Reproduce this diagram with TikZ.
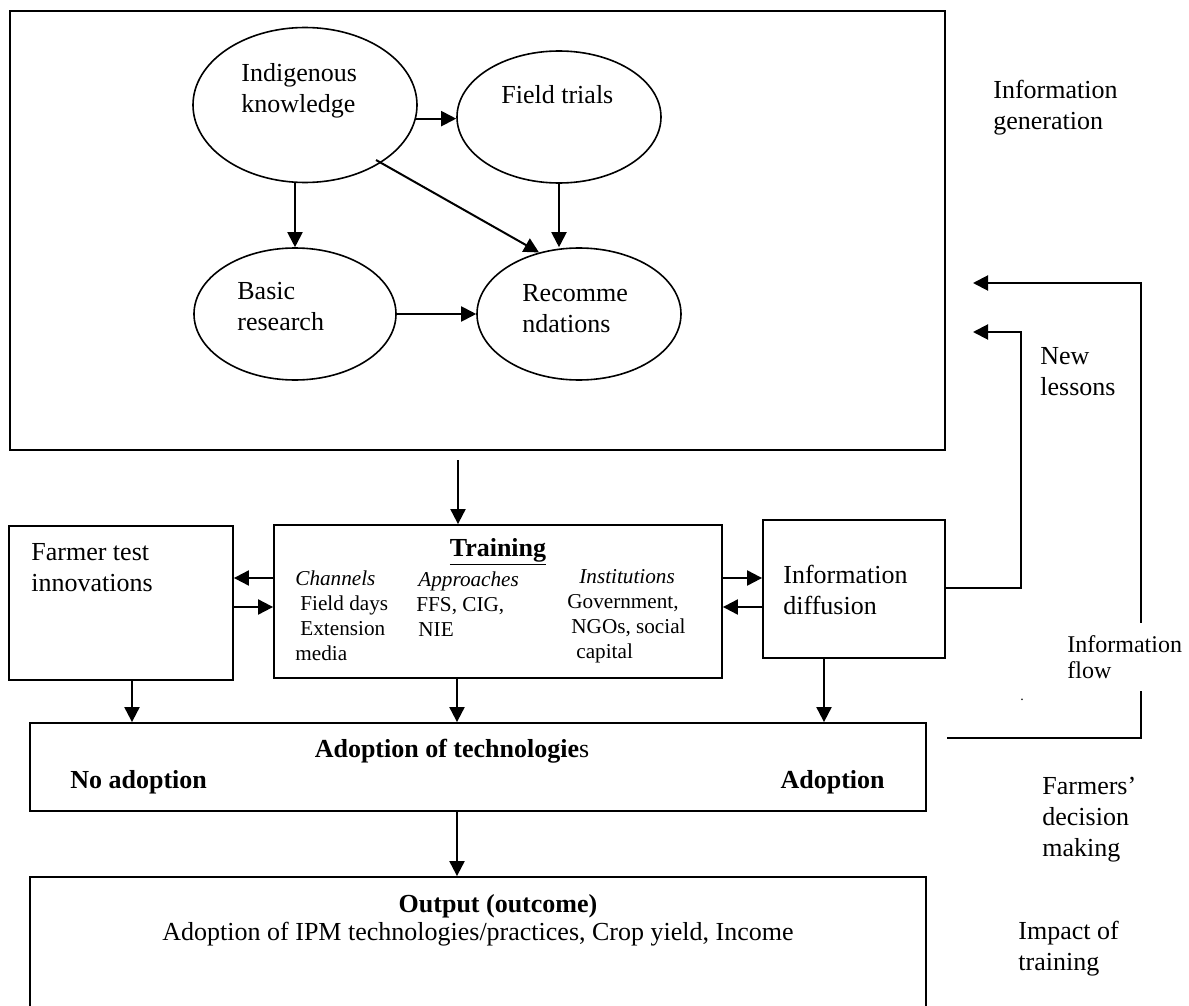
\documentclass[tikz,border=0pt]{standalone}
\usepackage{fontspec}
\setmainfont{Liberation Serif}
\usetikzlibrary{arrows.meta,calc,fit,shapes.geometric}

\begin{document}
\begin{tikzpicture}[x=0.5pt,y=-0.5pt,font=\fontsize{13}{15.5}\selectfont]
  \tikzstyle{frame}=[draw,line width=0.9pt,inner sep=0pt]
  \tikzstyle{bubble}=[draw,ellipse,line width=0.8pt,inner sep=0pt]
  \tikzstyle{txt}=[align=left,anchor=west,inner sep=0pt]
  \tikzstyle{small}=[txt,font=\fontsize{10.6}{12.5}\selectfont]
  \tikzstyle{bold}=[inner sep=0pt,font=\fontsize{13}{15.5}\selectfont\bfseries]
  \tikzstyle{arr}=[line width=1pt,-{Triangle[length=7.5pt,width=7.5pt]}]
  \useasboundingbox (0,0) rectangle (1189,1006);

  \node[frame,fit={(10,11) (945,450)}] (gen) {};
  \node[bubble,minimum width=112pt,minimum height=77.5pt] (ik) at (305,105) {};
  \node[bubble,minimum width=102pt,minimum height=66pt] (ft) at (559,117) {};
  \node[bubble,minimum width=101pt,minimum height=66pt] (br) at (295,314) {};
  \node[bubble,minimum width=102pt,minimum height=66pt] (rec) at (579,314) {};
  \node[txt] (ik-t) at (241,91) {Indigenous\\knowledge};
  \node[txt] (ft-t) at (501,95) {Field trials};
  \node[txt] (br-t) at (237,307) {Basic\\research};
  \node[txt] (rec-t) at (522,309) {Recomme\\ndations};
  \draw[arr] (ik.-7) -- (ik.-7 -| ft.west);
  \draw[arr] (ik.south -| br.north) -- (br.north);
  \draw[arr] (ft.south) -- (ft.south |- rec.north);
  \draw[arr] ($(ik.center)+(71,55)$) -- (rec.123);
  \draw[arr] (br.east) -- (rec.west);

  \node[frame,fit={(9,526) (233,680)}] (farmer) {};
  \node[frame,fit={(274,525) (722,678)}] (train) {};
  \node[frame,fit={(763,520) (945,658)}] (diff) {};
  \node[txt] (farmer-t) at (31,568) {Farmer test\\innovations};
  \node[txt] (diff-t) at (783,590) {Information\\diffusion};
  \node[bold] (train-t) at (498,552) {\underline{Training}};
  \node[small] (chan) at (295,616) {\textit{Channels}\\\hspace{2.5pt}Field days\\\hspace{2.5pt}Extension\\media};
  \node[small] (appr) at (416,604) {\hspace{1pt}\textit{Approaches}\\FFS, CIG,\\\hspace{1pt}NIE};
  \node[small] (inst) at (567,616) {\hspace{6pt}\textit{Institutions}\\Government,\\\hspace{2pt}NGOs, social\\\hspace{4.5pt}capital};
  \coordinate (gen-out) at (458,460);
  \draw[arr] (gen-out) -- (gen-out |- train.north);
  \draw[arr] (train.west |- 0,578) -- (farmer.east |- 0,578);
  \draw[arr] (farmer.east |- 0,607) -- (train.west |- 0,607);
  \draw[arr] (train.east |- 0,578) -- (diff.west |- 0,578);
  \draw[arr] (diff.west |- 0,607) -- (train.east |- 0,607);

  \node[frame,fit={(30,723) (926,811)}] (adopt) {};
  \node[frame,fit={(30,877) (926,1014)}] (out) {};
  \node[bold] (adopt-t) at (452,751) {Adoption of technologie\textmd{s}};
  \node[bold,anchor=west] (no-t) at (70,782) {No adoption};
  \node[bold,anchor=east] (yes-t) at (885,782) {Adoption};
  \node[bold] (out-t) at (498,906) {Output (outcome)};
  \node[inner sep=0pt] (out-d) at (478,934) {Adoption of IPM technologies/practices, Crop yield, Income};
  \draw[arr] (farmer.south -| 132,0) -- (adopt.north -| 132,0);
  \draw[arr] (train.south -| 457,0) -- (adopt.north -| 457,0);
  \draw[arr] (diff.south -| 824,0) -- (adopt.north -| 824,0);
  \draw[arr] (adopt.south -| 457,0) -- (out.north -| 457,0);

  \coordinate (lessons-in) at (973,332);
  \coordinate (flow-in) at (973,283);
  \coordinate (flow-start) at (947,738);
  \draw[arr] (diff.east |- 0,588) -| (1021,332) -- (lessons-in);
  \draw[arr] (flow-start) -| (1141,283) -- (flow-in);
  \node[txt,fill=white,inner xsep=2pt,inner ysep=6pt,font=\fontsize{12}{13}\selectfont] (flow-t) at (1063,657) {Information\\flow};
  \node[inner sep=0pt,font=\scriptsize] (dot) at (1022,700) {.};

  \node[txt] (gen-l) at (993,108) {Information\\generation};
  \node[txt] (lessons-l) at (1040,372) {New\\lessons};
  \node[txt] (decide-l) at (1042,820) {Farmers’\\decision\\making};
  \node[txt] (impact-l) at (1018,949) {Impact of\\training};
\end{tikzpicture}
\end{document}
